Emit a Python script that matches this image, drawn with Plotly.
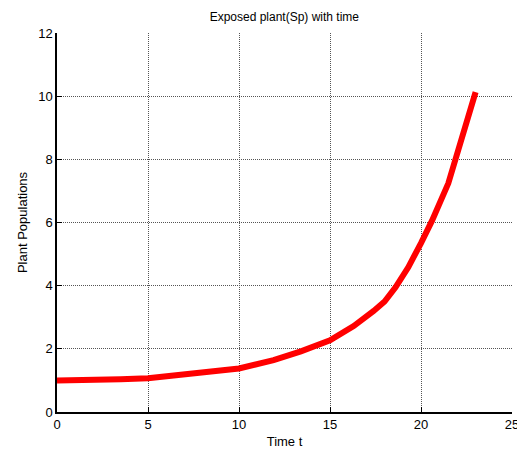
import plotly.graph_objects as go

t = [0, 2.3, 3.5, 5, 6.5, 8.2, 10, 11.9, 13.4, 15, 16.3, 17.4, 18.0, 18.6, 19.3, 20, 20.6, 21.5, 21.9, 22.45, 23.0]
sp = [1.0, 1.0, 1.04, 1.07, 1.15, 1.26, 1.38, 1.64, 1.92, 2.27, 2.72, 3.2, 3.5, 3.95, 4.58, 5.35, 6.05, 7.24, 8.0, 9.1, 10.13]

x_ticks = [0, 5, 10, 15, 20, 25]
y_ticks = [0, 2, 4, 6, 8, 10, 12]

fig = go.Figure()
fig.add_trace(go.Scatter(x=t, y=sp, mode="lines",
                         line=dict(color="#ff0000", width=6), showlegend=False))

font = dict(family="Liberation Sans, Arial", size=13, color="black")
common = dict(ticks="inside", ticklen=5, tickcolor="black",
              showline=True, linecolor="black", linewidth=1.5, mirror=False,
              showgrid=True, gridcolor="#555", griddash="1px,1px", gridwidth=1,
              zeroline=False, automargin=False, ticklabeloverflow="allow")
fig.update_layout(
    width=517, height=454,
    margin=dict(l=57, r=5, t=33, b=42),
    paper_bgcolor="white", plot_bgcolor="white",
    font=font,
    title=dict(text="Exposed plant(Sp) with time", x=0.55, xanchor="center",
               y=1 - 17/454, yanchor="middle", font=dict(size=12, family="Liberation Sans, Arial")),
    xaxis=dict(range=[0, 25], tickvals=x_ticks,
               title=dict(text="Time t", standoff=6, font=dict(size=13)), **common),
    yaxis=dict(range=[0, 12], tickvals=y_ticks,
               title=dict(text="Plant Populations", standoff=8, font=dict(size=13)), **common),
)
fig.write_html("out.html")
